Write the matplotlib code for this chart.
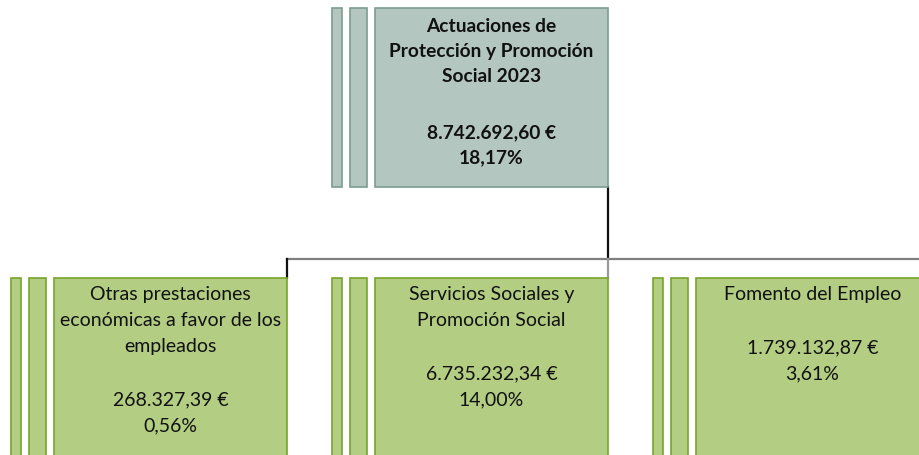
import matplotlib
matplotlib.use("Agg")
import matplotlib.pyplot as plt
from matplotlib.patches import Rectangle

# Data
root_title = ["Actuaciones de", "Protección y Promoción", "Social 2023"]
root_amount = "8.742.692,60 €"
root_pct = "18,17%"

child_titles = [
    ["Otras prestaciones", "económicas a favor de los", "empleados"],
    ["Servicios Sociales y", "Promoción Social"],
    ["Fomento del Empleo"],
]
child_amounts = ["268.327,39 €", "6.735.232,34 €", "1.739.132,87 €"]
child_pcts = ["0,56%", "14,00%", "3,61%"]

W, H = 920, 456
fig = plt.figure(figsize=(9.2, 4.56), dpi=100)
ax = fig.add_axes([0, 0, 1, 1])
ax.set_xlim(0, W)
ax.set_ylim(H, 0)
ax.axis("off")
plt.rcParams['font.family'] = ['Lato', 'DejaVu Sans']

root_fill, root_edge = "#b3c6bf", "#7c9c8e"
child_fill, child_edge = "#b3cd83", "#77a42c"

def node(x0, y0, w, h, fill, edge, lines, bold, fs, top, step, gap):
    # two thin decorative strips then main box
    ax.add_patch(Rectangle((x0 - 43, y0), 10, h, facecolor=fill, edgecolor=edge, lw=1.2))
    ax.add_patch(Rectangle((x0 - 25, y0), 17, h, facecolor=fill, edgecolor=edge, lw=1.2))
    ax.add_patch(Rectangle((x0, y0), w, h, facecolor=fill, edgecolor=edge, lw=1.2))
    cx = x0 + w / 2
    y = y0 + top
    for ln in lines:
        if ln is not None:
            ax.text(cx, y, ln, ha="center", va="center", fontsize=fs,
                    fontweight="bold" if bold else "normal", color="#111111")
            y += step
        else:
            y += gap

# connectors
ax.plot([608, 608], [188, 260], color="#111111", lw=1.6, zorder=0)
ax.plot([287, 920], [260, 260], color="#7f7f7f", lw=1.6, zorder=0)
ax.plot([287, 287], [260, 279], color="#111111", lw=1.6, zorder=0)
ax.plot([608, 608], [260, 279], color="#9a9a9a", lw=1.6, zorder=0)

# root
node(375, 9, 233, 179, root_fill, root_edge,
     root_title + [None, root_amount, root_pct], True, 13.8, 17, 25.5, 30)

xs = [54, 375, 696]
for i in range(3):
    lines = child_titles[i] + [None, child_amounts[i], child_pcts[i]]
    node(xs[i], 279, 233, 200, child_fill, child_edge, lines, False, 14, 16, 26, 27)

fig.savefig("out.png", dpi=100)
